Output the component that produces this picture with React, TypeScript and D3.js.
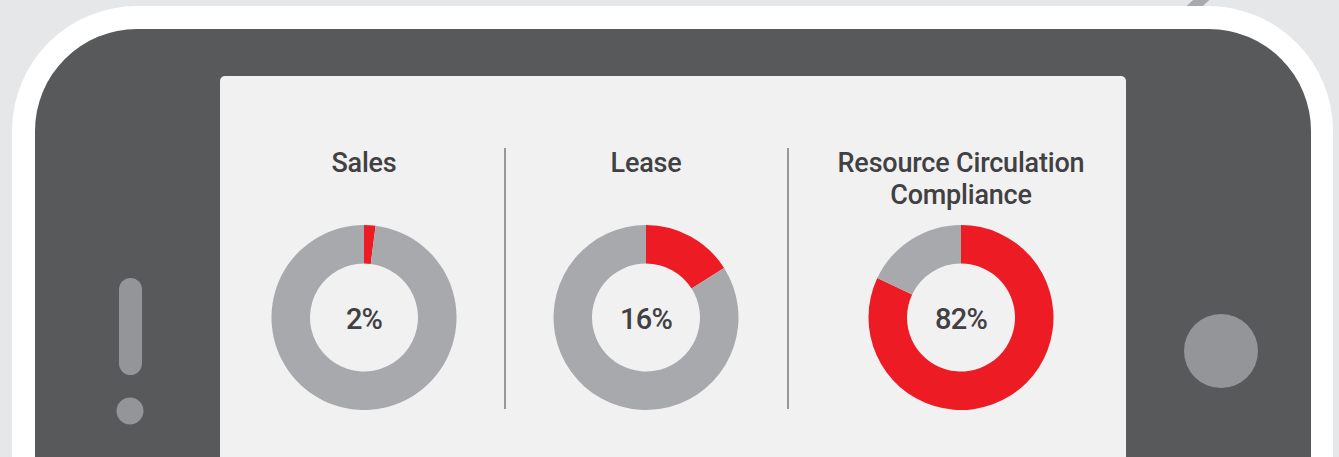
import React, { useEffect, useRef } from 'react'
import * as d3 from 'd3'

// chart data
const categories = ['Sales', 'Lease', 'Resource Circulation Compliance']
const titleLines = [['Sales'], ['Lease'], ['Resource Circulation', 'Compliance']]
const shareValues = [2, 16, 82]
const shareLabels = ['2%', '16%', '82%']

// layout
const W = 1339
const H = 457
const donutCenters = [364, 646, 961]
const dividerXs = [505, 788]

const App = () => {
  const ref = useRef<SVGSVGElement>(null)

  useEffect(() => {
    document.body.style.margin = '0'
    const svg = d3.select(ref.current)
    svg.selectAll('*').remove()

    svg.append('rect').attr('width', W).attr('height', H).attr('fill', '#e6e7e8')

    // little line poking out at the top right
    svg
      .append('line')
      .attr('x1', 1186)
      .attr('y1', 14)
      .attr('x2', 1212)
      .attr('y2', -10)
      .attr('stroke', '#a7a9ac')
      .attr('stroke-width', 11)

    // phone frame
    svg
      .append('rect')
      .attr('x', 12)
      .attr('y', 6)
      .attr('width', 1321)
      .attr('height', 700)
      .attr('rx', 125)
      .attr('fill', '#ffffff')
    svg
      .append('rect')
      .attr('x', 35)
      .attr('y', 29)
      .attr('width', 1276)
      .attr('height', 700)
      .attr('rx', 102)
      .attr('fill', '#58595b')

    // buttons
    svg
      .append('rect')
      .attr('x', 119)
      .attr('y', 278)
      .attr('width', 23)
      .attr('height', 97)
      .attr('rx', 11.5)
      .attr('fill', '#939598')
    svg.append('circle').attr('cx', 130).attr('cy', 411).attr('r', 13.5).attr('fill', '#939598')
    svg.append('circle').attr('cx', 1221).attr('cy', 351).attr('r', 37).attr('fill', '#939598')

    // screen
    svg
      .append('rect')
      .attr('x', 220)
      .attr('y', 76)
      .attr('width', 906)
      .attr('height', 500)
      .attr('rx', 5)
      .attr('fill', '#f1f1f1')

    svg
      .selectAll('line.divider')
      .data(dividerXs)
      .join('line')
      .attr('class', 'divider')
      .attr('x1', (d) => d)
      .attr('x2', (d) => d)
      .attr('y1', 148)
      .attr('y2', 409)
      .attr('stroke', '#414042')
      .attr('stroke-width', 1)

    const pie = d3.pie<number>().sort(null).value((d) => d)
    const arc = d3.arc<d3.PieArcDatum<number>>().innerRadius(54).outerRadius(92.5)
    const colors = ['#ed1c24', '#a7a9ac']

    categories.forEach((cat, i) => {
      const g = svg.append('g').attr('transform', `translate(${donutCenters[i]},317.5)`)
      g.selectAll('path')
        .data(pie([shareValues[i], 100 - shareValues[i]]))
        .join('path')
        .attr('d', arc)
        .attr('fill', (_d, j) => colors[j])

      g.append('text')
        .attr('text-anchor', 'middle')
        .attr('y', 11)
        .attr('font-family', 'Roboto, sans-serif')
        .attr('font-weight', 500)
        .attr('font-size', 29)
        .attr('letter-spacing', -0.8)
        .attr('fill', '#414042')
        .text(shareLabels[i])

      svg
        .append('text')
        .attr('text-anchor', 'middle')
        .attr('x', donutCenters[i])
        .attr('font-family', 'Roboto, sans-serif')
        .attr('font-weight', 500)
        .attr('font-size', 27)
        .attr('letter-spacing', -0.2)
        .attr('fill', '#414042')
        .selectAll('tspan')
        .data(titleLines[i])
        .join('tspan')
        .attr('x', donutCenters[i])
        .attr('y', (_d, j) => 172 + j * 32)
        .text((d) => d)
    })
  }, [])

  return <svg ref={ref} width={W} height={H} style={{ display: 'block' }}></svg>
}

export default App
